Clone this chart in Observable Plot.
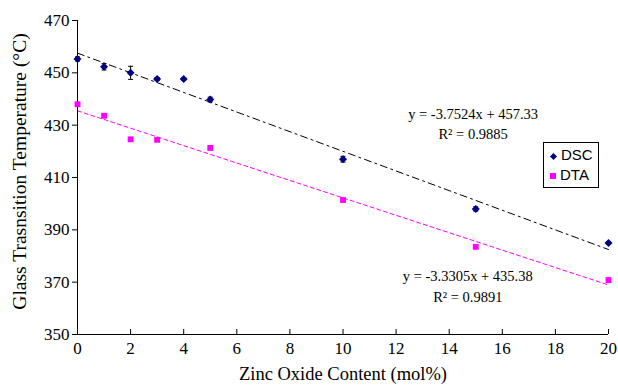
<!DOCTYPE html>
<html>
<head>
<meta charset="utf-8">
<script src="https://cdn.jsdelivr.net/npm/d3@7"></script>
<script src="https://cdn.jsdelivr.net/npm/@observablehq/plot@0.6"></script>
<style>
  html, body { margin: 0; padding: 0; background: white; }
  #wrap { position: relative; width: 618px; height: 386px; }
  #legend {
    position: absolute; left: 543px; top: 142px; width: 54px; height: 44px;
    border: 1px solid black; background: white;
    font-family: "Liberation Sans", Arial, sans-serif; font-size: 15px; color: black;
  }
  #legend .row { position: absolute; left: 6px; height: 18px; line-height: 18px; }
  #legend .sym { display: inline-block; vertical-align: middle; margin-right: 4px; }
</style>
</head>
<body>
<div id="wrap"></div>
<script>
// ---- data ----
const dscX   = [0, 1, 2, 3, 4, 5, 10, 15, 20];
const dscTg  = [455.3, 452.3, 450.0, 447.6, 447.6, 439.8, 417.0, 398.0, 385.0];
const dscErr = [0.8, 1.2, 2.5, 0.6, 0.4, 0.9, 1.1, 0.8, 0.5];
const dtaX   = [0, 1, 2, 3, 5, 10, 15, 20];
const dtaTg  = [438.0, 433.6, 424.6, 424.4, 421.3, 401.4, 383.5, 370.8];
const seriesNames = ["DSC", "DTA"];
const seriesColors = ["#000080", "#ff00ff"];
const xTicks = [0, 2, 4, 6, 8, 10, 12, 14, 16, 18, 20];
const yTicks = [350, 370, 390, 410, 430, 450, 470];
const xTitle = "Zinc Oxide Content (mol%)";
const yTitle = "Glass Trasnsition Temperature (°C)";
const eqText = ["y = -3.7524x + 457.33", "R² = 0.9885", "y = -3.3305x + 435.38", "R² = 0.9891"];
const eqX = [14.9, 14.9, 14.7, 14.7];
const eqY = [434.0, 426.4, 372.2, 364.2];

const dsc = dscX.map((x, i) => ({x, y: dscTg[i], e: dscErr[i]}));
const dta = dtaX.map((x, i) => ({x, y: dtaTg[i]}));
const eqs = eqText.map((t, i) => ({t, x: eqX[i], y: eqY[i]}));

const capSymbol = { draw(ctx) { ctx.moveTo(-2.5, 0); ctx.lineTo(2.5, 0); } };

const chart = Plot.plot({
  width: 618, height: 386,
  marginLeft: 77, marginRight: 10, marginTop: 20, marginBottom: 52,
  x: {domain: [0, 20]},
  y: {domain: [350, 470]},
  style: {fontFamily: "Liberation Serif, Times New Roman, serif", fontSize: "17px", color: "black", background: "white", overflow: "visible"},
  marks: [
    // trend lines
    Plot.linearRegressionY(dsc, {x: "x", y: "y", ci: 0, stroke: "black", strokeWidth: 1, strokeDasharray: "7,4,2,4"}),
    Plot.linearRegressionY(dta, {x: "x", y: "y", ci: 0, stroke: seriesColors[1], strokeWidth: 1, strokeDasharray: "4,3"}),
    // axes
    Plot.ruleX([0], {stroke: "black"}),
    Plot.ruleY([350], {stroke: "black"}),
    Plot.axisY(yTicks, {tickSize: 5, tickPadding: 3, label: null, fontSize: 17}),
    Plot.axisX(xTicks, {tickSize: 5, insetBottom: 5, tickFormat: () => "", label: null}),
    Plot.axisX(xTicks, {tickSize: 0, tickPadding: 7, label: null, fontSize: 17}),
    Plot.text([xTitle], {frameAnchor: "bottom", dy: 45, fontSize: 18.5}),
    Plot.text([yTitle], {frameAnchor: "left", textAnchor: "middle", rotate: -90, dx: -58, dy: -6, fontSize: 19.5}),
    // error bars
    Plot.ruleX(dsc, {x: "x", y1: d => d.y - d.e, y2: d => d.y + d.e, stroke: "black", strokeWidth: 1}),
    Plot.dot(dsc, {x: "x", y: d => d.y - d.e, symbol: capSymbol, r: 3, stroke: "black", strokeWidth: 1}),
    Plot.dot(dsc, {x: "x", y: d => d.y + d.e, symbol: capSymbol, r: 3, stroke: "black", strokeWidth: 1}),
    // points
    Plot.dot(dsc, {x: "x", y: "y", symbol: "diamond2", r: 3.6, fill: seriesColors[0], stroke: "none"}),
    Plot.dot(dta, {x: "x", y: "y", symbol: "square", r: 3.3, fill: seriesColors[1], stroke: "none"}),
    // equations
    Plot.text(eqs, {x: "x", y: "y", text: "t", fontSize: 14.5})
  ]
});
const wrap = document.getElementById("wrap");
wrap.appendChild(chart);

const legend = document.createElement("div");
legend.id = "legend";
seriesNames.forEach((name, i) => {
  const row = document.createElement("div");
  row.className = "row";
  row.style.top = (3 + i * 20) + "px";
  const sym = document.createElement("span");
  sym.className = "sym";
  if (i === 0) {
    sym.style.cssText = `width:5px;height:5px;background:${seriesColors[0]};transform:rotate(45deg);margin-left:1px;margin-right:5px;`;
  } else {
    sym.style.cssText = `width:6px;height:6px;background:${seriesColors[1]};`;
  }
  row.appendChild(sym);
  row.appendChild(document.createTextNode(name));
  legend.appendChild(row);
});
wrap.appendChild(legend);
</script>
</body>
</html>
